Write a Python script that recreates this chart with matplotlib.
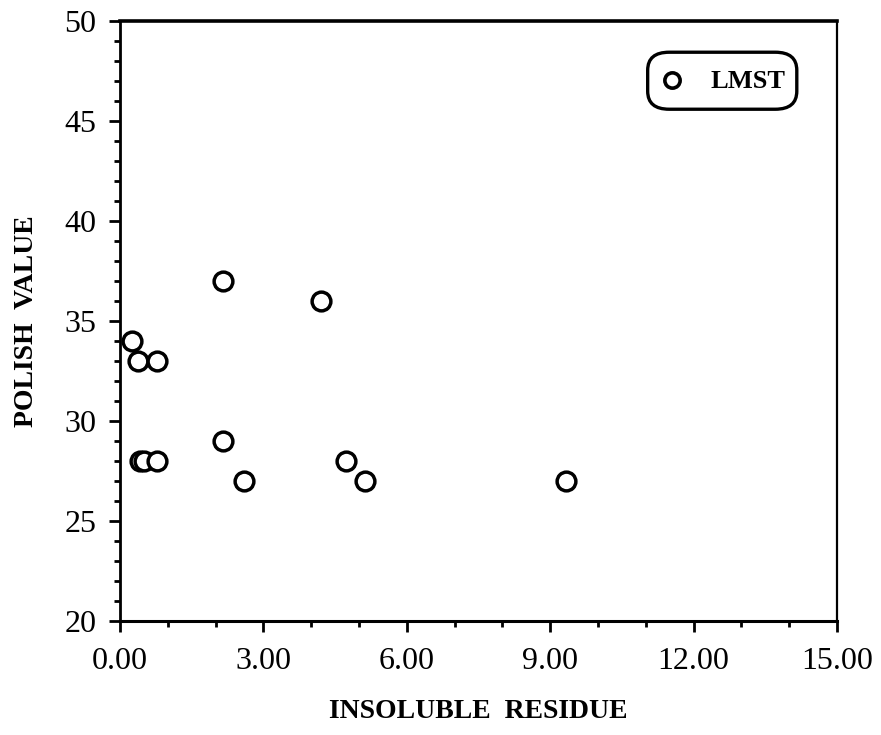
import matplotlib
matplotlib.use("Agg")
import matplotlib.pyplot as plt
from matplotlib.ticker import MultipleLocator, FormatStrFormatter
from matplotlib.patches import FancyBboxPatch
from matplotlib.lines import Line2D

# insoluble residue vs polish value, LMST samples
residue = [0.25, 0.38, 0.78, 2.15, 4.20, 2.15, 0.42, 0.50, 0.78, 2.59, 4.72, 5.12, 9.33]
polish = [34, 33, 33, 37, 36, 29, 28, 28, 28, 27, 28, 27, 27]
series_name = "LMST"

serif = ["Liberation Serif", "DejaVu Serif"]
plt.rcParams["font.family"] = serif

fig = plt.figure(figsize=(8.81, 7.35), dpi=100)
ax = fig.add_axes([0.1362, 0.155, 0.8138, 0.8164])

ax.plot(residue, polish, linestyle="none", marker="o", markersize=13.5,
        markerfacecolor="white", markeredgecolor="black", markeredgewidth=2.5)

ax.set_xlim(0, 15)
ax.set_ylim(20, 50)
ax.xaxis.set_major_locator(MultipleLocator(3))
ax.xaxis.set_minor_locator(MultipleLocator(1))
ax.yaxis.set_major_locator(MultipleLocator(5))
ax.yaxis.set_minor_locator(MultipleLocator(1))
ax.xaxis.set_major_formatter(FormatStrFormatter("%.2f"))

ax.tick_params(which="major", direction="out", length=8, width=2, labelsize=23)
ax.tick_params(which="minor", direction="out", length=4, width=2)
ax.tick_params(axis="x", which="major", pad=11)
ax.tick_params(axis="y", which="major", pad=9)

ax.spines["left"].set_linewidth(2)
ax.spines["bottom"].set_linewidth(2.2)
ax.spines["top"].set_linewidth(2.6)
ax.spines["right"].set_linewidth(1.6)

ax.set_xlabel("INSOLUBLE  RESIDUE", fontsize=20, fontweight="bold", labelpad=16)
ax.set_ylabel("POLISH  VALUE", fontsize=20, fontweight="bold", labelpad=18)

# rounded legend box in the upper right corner
box = FancyBboxPatch((0.736, 0.853), 0.208, 0.095, transform=ax.transAxes,
                     boxstyle="round,pad=0,rounding_size=0.03",
                     facecolor="white", edgecolor="black", linewidth=2.4)
ax.add_patch(box)
ax.add_line(Line2D([0.770], [0.902], transform=ax.transAxes, marker="o",
                   markersize=11, markerfacecolor="white",
                   markeredgecolor="black", markeredgewidth=2.6))
ax.text(0.823, 0.900, series_name, transform=ax.transAxes, fontsize=19,
        fontweight="bold", va="center", ha="left")

fig.savefig("out.png", dpi=100, facecolor="white")
